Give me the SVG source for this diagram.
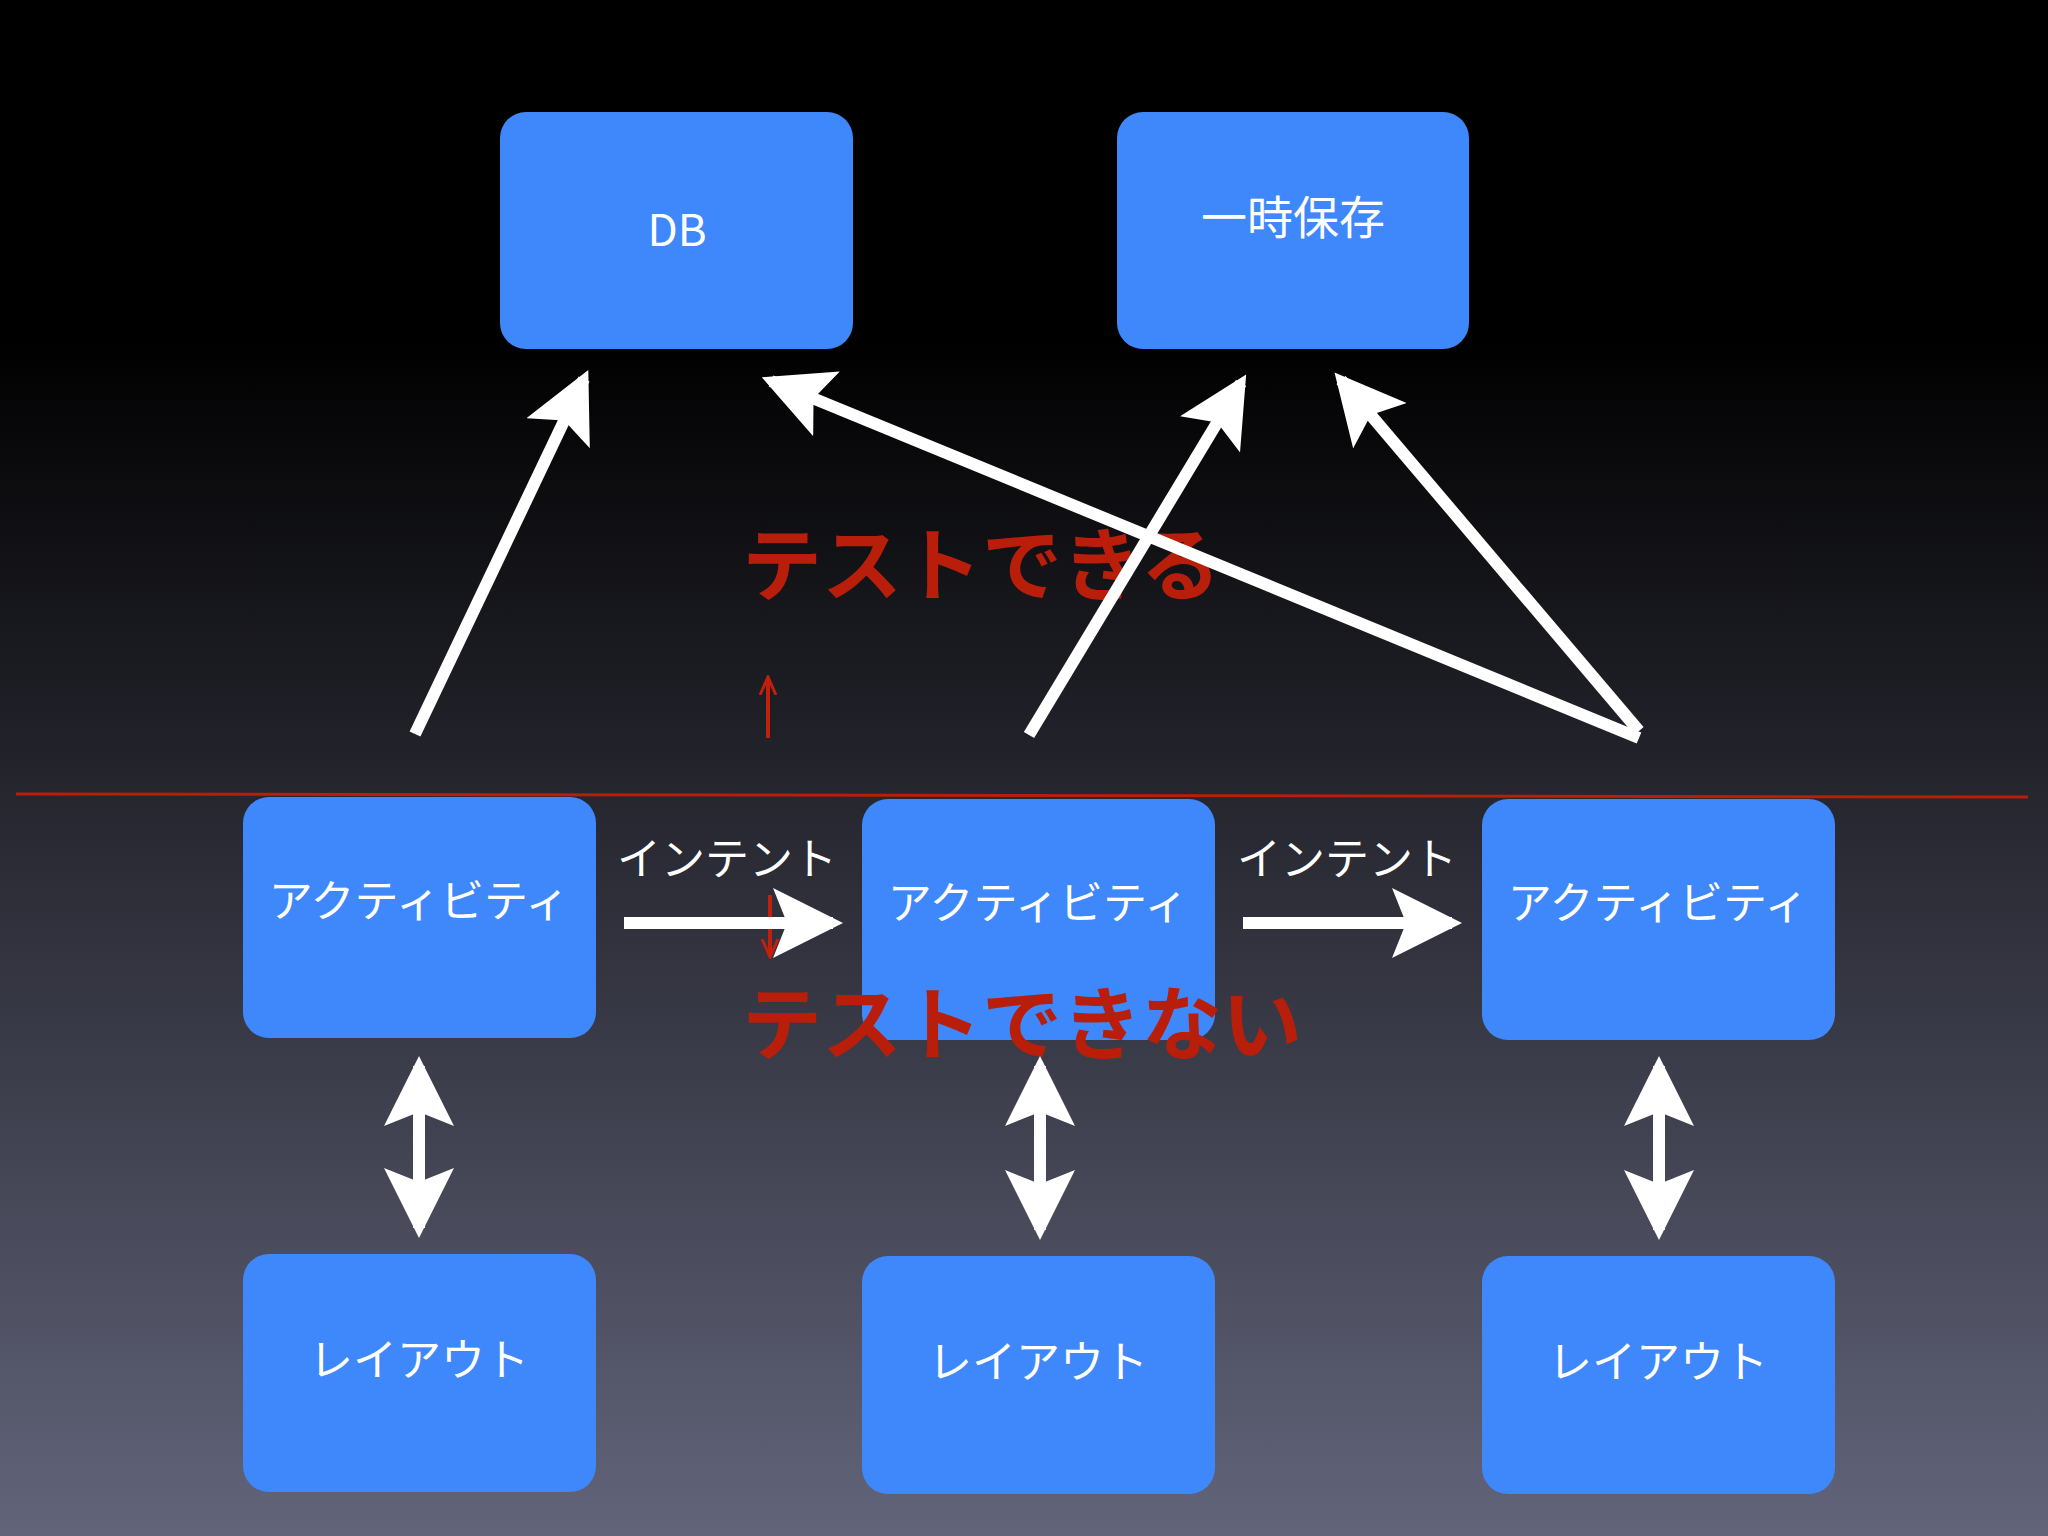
<svg xmlns="http://www.w3.org/2000/svg" width="2048" height="1536" viewBox="0 0 2048 1536">
<defs>
<linearGradient id="bg" x1="0" y1="0" x2="0" y2="1">
<stop offset="0" stop-color="#000"/><stop offset="0.22" stop-color="#000"/><stop offset="1" stop-color="#62647a"/>
</linearGradient>
<marker id="ah" viewBox="0 0 70 70" refX="60" refY="35" markerWidth="70" markerHeight="70" markerUnits="userSpaceOnUse" orient="auto-start-reverse">
<path d="M0,0 L70,35 L0,70 L14,35 z" fill="#fff"/>
</marker>
<marker id="rh" viewBox="0 0 20 20" refX="16" refY="10" markerWidth="20" markerHeight="20" markerUnits="userSpaceOnUse" orient="auto">
<path d="M0,2 L18,10 L0,18" fill="none" stroke="#c0200c" stroke-width="3"/>
</marker>
</defs>
<style>
.box{fill:#3f88fb}
.t{font-family:"Noto Sans CJK JP","Noto Sans",sans-serif;fill:#fff;text-anchor:middle}
.r{font-family:"Noto Sans CJK JP",sans-serif;font-weight:bold;fill:#b81e0a;font-size:80px}
.c{stroke:#fff;stroke-width:12;fill:none}
</style>
<rect width="2048" height="1536" fill="url(#bg)"/>
<g id="db"><rect class="box" x="500" y="112" width="353" height="237" rx="26"/><text class="t" x="677" y="246" font-size="44">DB</text></g>
<g id="temp"><rect class="box" x="1117" y="112" width="352" height="237" rx="26"/><text class="t" x="1293" y="234" font-size="46">一時保存</text></g>
<g id="act1"><rect class="box" x="243" y="797" width="353" height="241" rx="26"/><text class="t" x="419" y="917" font-size="44">アクティビティ</text></g>
<g id="act2"><rect class="box" x="862" y="799" width="353" height="241" rx="26"/><text class="t" x="1038" y="919" font-size="44">アクティビティ</text></g>
<g id="act3"><rect class="box" x="1482" y="799" width="353" height="241" rx="26"/><text class="t" x="1658" y="919" font-size="44">アクティビティ</text></g>
<g id="lay1"><rect class="box" x="243" y="1254" width="353" height="238" rx="26"/><text class="t" x="419" y="1376" font-size="44">レイアウト</text></g>
<g id="lay2"><rect class="box" x="862" y="1256" width="353" height="238" rx="26"/><text class="t" x="1038" y="1378" font-size="44">レイアウト</text></g>
<g id="lay3"><rect class="box" x="1482" y="1256" width="353" height="238" rx="26"/><text class="t" x="1658" y="1378" font-size="44">レイアウト</text></g>
<line x1="16" y1="794" x2="2028" y2="797" stroke="#b81e0a" stroke-width="3"/>
<text class="r" x="742" y="594">テストできる</text>
<text class="r" x="742" y="1053">テストできない</text>
<g id="connectors">
<line x1="768" y1="738" x2="768" y2="679" stroke="#c0200c" stroke-width="4" marker-end="url(#rh)"/>
<line x1="770" y1="895" x2="770" y2="955" stroke="#c0200c" stroke-width="4" marker-end="url(#rh)"/>
<line class="c" x1="415" y1="734" x2="584" y2="379" marker-end="url(#ah)"/>
<line class="c" x1="1639" y1="738" x2="771" y2="381" marker-end="url(#ah)"/>
<line class="c" x1="1029" y1="735" x2="1241" y2="383" marker-end="url(#ah)"/>
<line class="c" x1="1639" y1="731" x2="1341" y2="380" marker-end="url(#ah)"/>
<line class="c" x1="624" y1="923" x2="833" y2="923" stroke-width="16" marker-end="url(#ah)"/>
<line class="c" x1="1243" y1="923" x2="1452" y2="923" stroke-width="16" marker-end="url(#ah)"/>
<line class="c" x1="419" y1="1066" x2="419" y2="1228" marker-start="url(#ah)" marker-end="url(#ah)"/>
<line class="c" x1="1040" y1="1066" x2="1040" y2="1230" marker-start="url(#ah)" marker-end="url(#ah)"/>
<line class="c" x1="1659" y1="1066" x2="1659" y2="1230" marker-start="url(#ah)" marker-end="url(#ah)"/>
</g>
<text class="t" x="727" y="875" font-size="44">インテント</text>
<text class="t" x="1347" y="875" font-size="44">インテント</text>
</svg>
